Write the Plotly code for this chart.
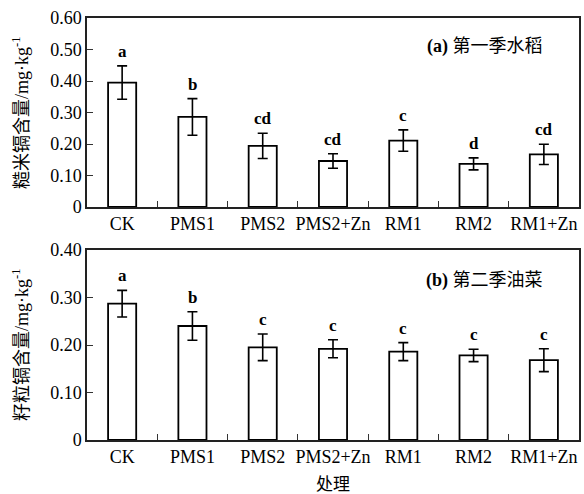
import plotly.graph_objects as go

categories = ["CK", "PMS1", "PMS2", "PMS2+Zn", "RM1", "RM2", "RM1+Zn"]

rice_cd = [0.395, 0.286, 0.194, 0.146, 0.211, 0.137, 0.167]
rice_se = [0.053, 0.058, 0.040, 0.023, 0.034, 0.019, 0.032]
rice_letters = ["a", "b", "cd", "cd", "c", "d", "cd"]

rape_cd = [0.287, 0.240, 0.195, 0.192, 0.186, 0.178, 0.168]
rape_se = [0.028, 0.030, 0.028, 0.019, 0.019, 0.013, 0.024]
rape_letters = ["a", "b", "c", "c", "c", "c", "c"]

rice_yticks = [0, 0.1, 0.2, 0.3, 0.4, 0.5, 0.6]
rice_ytext = ["0", "0.10", "0.20", "0.30", "0.40", "0.50", "0.60"]
rape_yticks = [0, 0.1, 0.2, 0.3, 0.4]
rape_ytext = ["0", "0.10", "0.20", "0.30", "0.40"]

SERIF = "Liberation Serif, Noto Sans CJK SC"
CJK = "Noto Sans CJK SC"

fig = go.Figure()

def add_panel(vals, se, xa, ya):
    fig.add_trace(go.Bar(
        x=categories, y=vals, xaxis=xa, yaxis=ya, width=0.4,
        marker=dict(color="white", line=dict(color="black", width=1.8)),
        error_y=dict(type="data", array=se, visible=True, color="black",
                     thickness=1.6, width=5),
        showlegend=False,
    ))

add_panel(rice_cd, rice_se, "x", "y")
add_panel(rape_cd, rape_se, "x2", "y2")

xdom = [87 / 584, 579 / 584]
axis_common = dict(showline=True, linecolor="#222", linewidth=1.5, mirror=True,
                   showgrid=False, zeroline=False, ticks="inside", ticklen=6,
                   tickcolor="#333", tickwidth=1, automargin=False)
tf = dict(family=SERIF, size=18, color="black")

fig.update_layout(
    width=584, height=494, margin=dict(l=0, r=0, t=0, b=0),
    paper_bgcolor="white", plot_bgcolor="white", bargap=0.6,
    xaxis=dict(domain=xdom, anchor="y", tickson="boundaries", tickangle=0,
               tickfont=tf, **axis_common),
    yaxis=dict(domain=[1 - 207 / 494, 1 - 18 / 494], anchor="x", range=[0, 0.6],
               tickvals=rice_yticks, ticktext=rice_ytext, tickfont=tf, **axis_common),
    xaxis2=dict(domain=xdom, anchor="y2", tickson="boundaries", tickangle=0,
                tickfont=tf, **axis_common),
    yaxis2=dict(domain=[1 - 440 / 494, 1 - 250 / 494], anchor="x2", range=[0, 0.4],
                tickvals=rape_yticks, ticktext=rape_ytext, tickfont=tf, **axis_common),
)

annotations = []
for xa, ya, vals, se, letters in [("x", "y", rice_cd, rice_se, rice_letters),
                                  ("x2", "y2", rape_cd, rape_se, rape_letters)]:
    for c, v, s, l in zip(categories, vals, se, letters):
        annotations.append(dict(x=c, y=v + s, xref=xa, yref=ya, text="<b>%s</b>" % l,
                                showarrow=False, yanchor="bottom", yshift=3,
                                font=dict(family=SERIF, size=17, color="black")))

annotations += [
    dict(x=545 / 584, y=1 - 47 / 494, xref="paper", yref="paper", xanchor="right",
         yanchor="middle", showarrow=False,
         text="<b>(a)</b> 第一季水稻", font=dict(family=SERIF, size=18, color="black")),
    dict(x=545 / 584, y=1 - 280 / 494, xref="paper", yref="paper", xanchor="right",
         yanchor="middle", showarrow=False,
         text="<b>(b)</b> 第二季油菜", font=dict(family=SERIF, size=18, color="black")),
    dict(x=20 / 584, y=1 - 113 / 494, xref="paper", yref="paper", xanchor="center",
         yanchor="middle", showarrow=False, textangle=-90,
         text="糙米镉含量/mg·kg<sup>-1</sup>", font=dict(family=SERIF, size=18, color="black")),
    dict(x=20 / 584, y=1 - 345 / 494, xref="paper", yref="paper", xanchor="center",
         yanchor="middle", showarrow=False, textangle=-90,
         text="籽粒镉含量/mg·kg<sup>-1</sup>", font=dict(family=SERIF, size=18, color="black")),
    dict(x=333 / 584, y=1 - 482 / 494, xref="paper", yref="paper", xanchor="center",
         yanchor="middle", showarrow=False,
         text="处理", font=dict(family=CJK, size=17, color="black")),
]
fig.update_layout(annotations=annotations)

fig.write_html("out.html", config={"displayModeBar": False},
               post_script="document.body.style.margin='0';document.body.style.overflow='hidden';")
